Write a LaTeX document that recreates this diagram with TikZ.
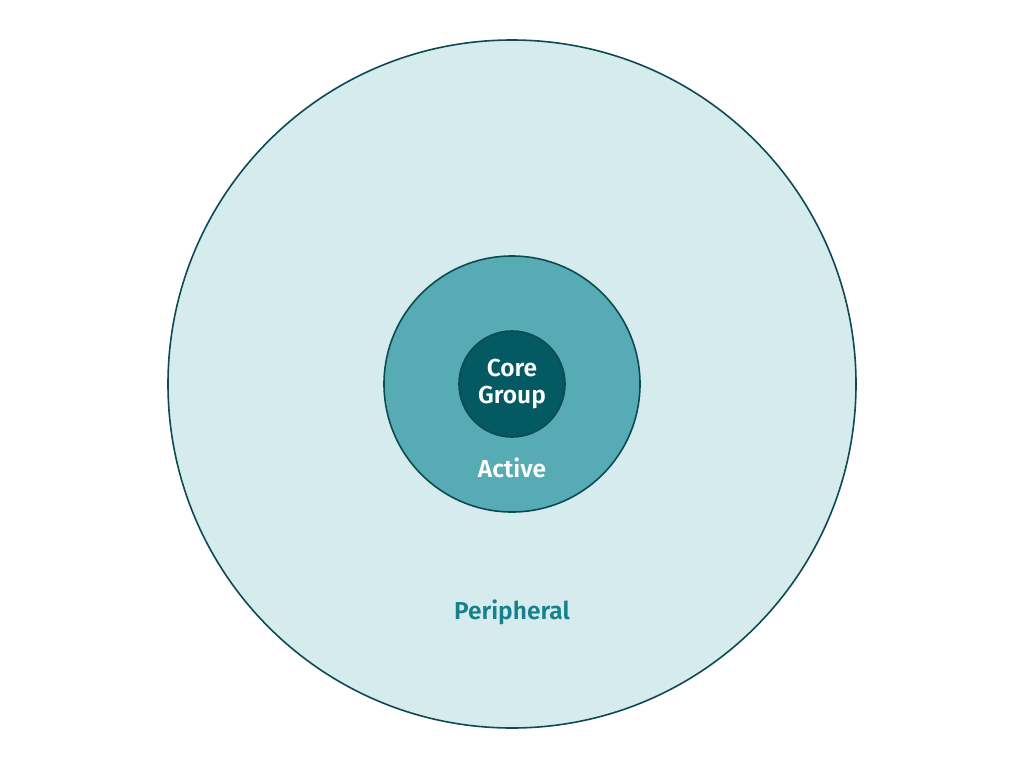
\documentclass[tikz,border=0pt]{standalone}
\usepackage{fontspec}
\setmainfont{Fira Sans}
\newfontfamily\semib{Fira Sans SemiBold}
\definecolor{outerfill}{HTML}{D5EBEE}
\definecolor{midfill}{HTML}{57ABB4}
\definecolor{innerfill}{HTML}{035A62}
\definecolor{rim}{HTML}{0E4A52}
\definecolor{periph}{HTML}{16818A}
\begin{document}
\begin{tikzpicture}[x=1pt,y=-1pt,
  ring/.style={circle,draw=rim,line width=1.6pt,inner sep=0pt},
  lbl/.style={font=\semib\fontsize{24.5}{27}\selectfont,align=center}]
\useasboundingbox (0,0) rectangle (1024,768);
\node[ring,fill=outerfill,minimum size=688pt] (outer) at (512,384) {};
\node[ring,fill=midfill,minimum size=256pt] (mid) at (512,384) {};
\node[ring,fill=innerfill,minimum size=106pt] (inner) at (512,384) {};
\node[lbl,text=white] (core) at (512,384) {Core\\Group};
\node[lbl,text=white] (active) at (512,468) {Active};
\node[lbl,text=periph] (peripheral) at (512,612) {Peripheral};
\end{tikzpicture}
\end{document}
